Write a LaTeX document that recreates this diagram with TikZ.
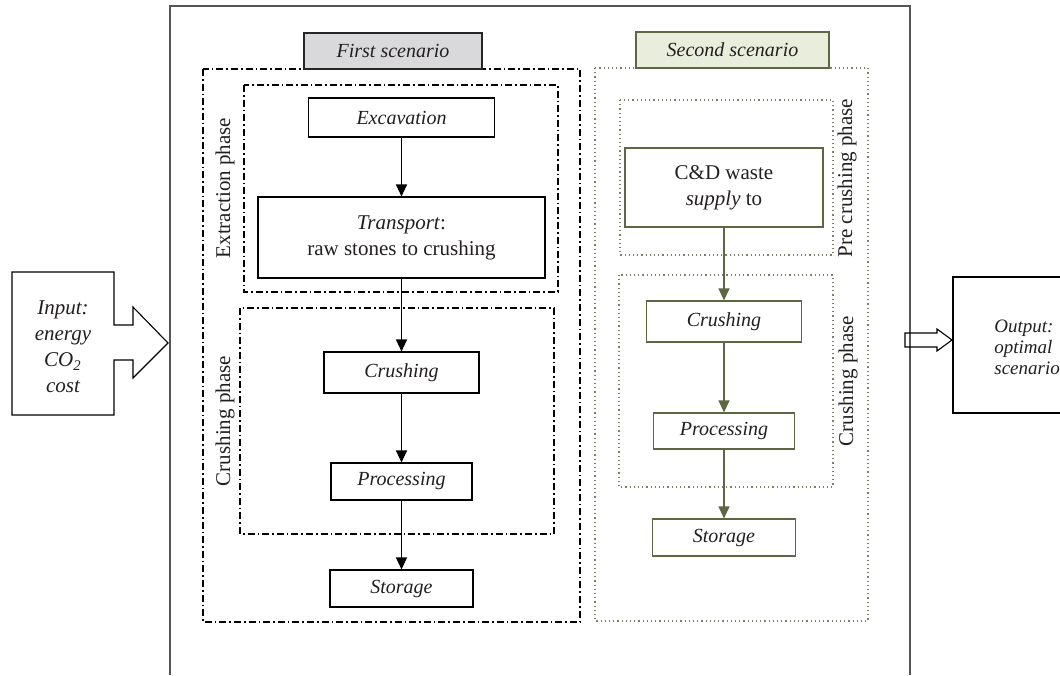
\documentclass[tikz,border=0pt]{standalone}
\usepackage{fontspec}
\setmainfont{Liberation Serif}
\usetikzlibrary{arrows.meta}
\definecolor{olivec}{HTML}{5E6644}
\definecolor{dotc}{HTML}{7D7F66}
\definecolor{framec}{HTML}{555555}
\definecolor{grayfill}{HTML}{D9D9DB}
\definecolor{greenfill}{HTML}{E9EEDC}
\definecolor{txt}{HTML}{231F20}
\begin{document}
\begin{tikzpicture}[x=0.5pt,y=-0.5pt, font=\fontsize{10}{12}\selectfont, text=txt,
  box/.style={draw=black, line width=0.55pt, inner sep=0pt, align=center},
  gbox/.style={draw=olivec, line width=0.6pt, inner sep=0pt, align=center},
  arr/.style={-{Triangle[width=5.5pt,length=6pt]}, line width=0.55pt, draw=black},
  garr/.style={-{Triangle[width=5.5pt,length=6pt]}, line width=0.6pt, draw=olivec},
  dashdotbox/.style={draw=black, line width=0.6pt, dash pattern=on 3.5pt off 1.5pt on 0.8pt off 1.5pt},
  dotbox/.style={draw=dotc, line width=0.7pt, dash pattern=on 0.6pt off 1.5pt},
  phase/.style={rotate=90, inner sep=0pt, font=\fontsize{10.5}{12}\selectfont}
]
\useasboundingbox[fill=white] (0,0) rectangle (1060,675);

% main frame
\draw[framec, line width=1pt] (170,675) -- (170,6) -- (910,6) -- (910,675);

% first scenario frames
\draw[dashdotbox] (203,69) rectangle (580,622);
\draw[dashdotbox] (244,85) rectangle (558,292);
\draw[dashdotbox] (240,308) rectangle (554,534);

% second scenario frames
\draw[dotbox] (595,68) rectangle (868,621);
\draw[dotbox] (620,100) rectangle (833,255);
\draw[dotbox] (619,275) rectangle (833,487);

% scenario titles
\node[box, draw=black!85, fill=grayfill, minimum width=89pt, minimum height=18pt] (t1) at (393,51) {\textit{First scenario}};
\node[gbox, fill=greenfill, minimum width=96.5pt, minimum height=18pt] (t2) at (732.5,50) {\textit{Second scenario}};

% phase labels
\node[phase] (lext) at (225,188) {Extraction phase};
\node[phase] (lcr1) at (225,421) {Crushing phase};
\node[phase] (lpre) at (847,178) {Pre crushing phase};
\node[phase] (lcr2) at (848,381) {Crushing phase};

% first scenario nodes
\node[box, minimum width=93pt, minimum height=19.5pt] (exc) at (401.5,117.5) {\textit{Excavation}};
\node[box, minimum width=143.5pt, minimum height=40.5pt, font=\fontsize{10.5}{13}\selectfont] (tra) at (401.5,237.5) {\textit{Transport}:\\raw stones to crushing};
\node[box, minimum width=77.5pt, minimum height=20.5pt] (cr1) at (401.5,372.5) {\textit{Crushing}};
\node[box, minimum width=70.5pt, minimum height=18.5pt] (pr1) at (401.5,481.5) {\textit{Processing}};
\node[box, minimum width=71.5pt, minimum height=18.5pt] (st1) at (401.5,588.5) {\textit{Storage}};

\draw[arr] (exc) -- (tra);
\draw[arr] (tra) -- (cr1);
\draw[arr] (cr1) -- (pr1);
\draw[arr] (pr1) -- (st1);

% second scenario nodes
\node[gbox, minimum width=99pt, minimum height=39.5pt, font=\fontsize{10.5}{13}\selectfont] (cdw) at (724,187.5) {C\&D waste\\\textit{supply} to};
\node[gbox, minimum width=77.5pt, minimum height=20.5pt] (cr2) at (724,321.5) {\textit{Crushing}};
\node[gbox, minimum width=70.5pt, minimum height=18pt] (pr2) at (724,431) {\textit{Processing}};
\node[gbox, minimum width=71.5pt, minimum height=18.5pt] (st2) at (724,537.5) {\textit{Storage}};

\draw[garr] (cdw) -- (cr2);
\draw[garr] (cr2) -- (pr2);
\draw[garr] (pr2) -- (st2);

% input
\draw[line width=0.55pt] (12,272) -- (114,272) -- (114,325) -- (133,325) -- (133,307) -- (168,343)
  -- (133,378) -- (133,360) -- (114,360) -- (114,415) -- (12,415) -- cycle;
\node[align=center, font=\fontsize{10.5}{13}\selectfont\itshape] (inp) at (63,347) {Input:\\energy\\CO$_{\mathit{2}}$\\cost};

% output
\draw[line width=0.55pt] (905,333) -- (937,333) -- (937,329) -- (952,340) -- (937,351) -- (937,347) -- (905,347) -- cycle;
\draw[line width=0.55pt] (1060,277) -- (953,277) -- (953,413) -- (1060,413);
\node[align=left, anchor=west, inner sep=0pt, font=\fontsize{9.5}{10.5}\selectfont\itshape] (outp) at (994,347) {Output:\\optimal\\scenario};
\end{tikzpicture}
\end{document}
